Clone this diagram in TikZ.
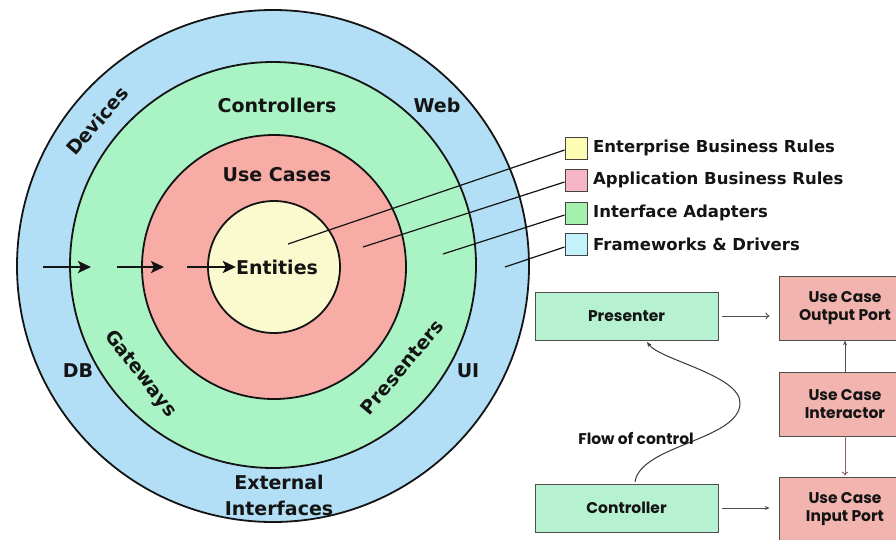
\documentclass[tikz,border=0pt]{standalone}
\usepackage{fontspec}
\setmainfont{DejaVu Sans}
\newfontfamily\popfont{Poppins}
\usetikzlibrary{arrows.meta,calc}

\definecolor{ringblue}{HTML}{B2DFF5}
\definecolor{ringgreen}{HTML}{AAF3C4}
\definecolor{ringred}{HTML}{F7ACA6}
\definecolor{ringyellow}{HTML}{FBF9CE}
\definecolor{swyellow}{HTML}{FCFCB4}
\definecolor{swpink}{HTML}{F6B6C8}
\definecolor{swgreen}{HTML}{A4F0AC}
\definecolor{swblue}{HTML}{C4F2FA}
\definecolor{boxgreen}{HTML}{B6F2D2}
\definecolor{boxred}{HTML}{F2B4AE}
\definecolor{ink}{HTML}{141414}
\definecolor{wire}{HTML}{505050}
\definecolor{mauve}{HTML}{8A6464}

\begin{document}
\begin{tikzpicture}[x=1pt,y=-1pt,
  ring/.style={circle,draw=ink,line width=1.8pt,inner sep=0pt},
  bigtext/.style={font=\fontsize{19}{26}\selectfont\bfseries,text=ink,align=center,inner sep=0pt},
  legtext/.style={font=\fontsize{16.5}{18}\selectfont\bfseries,text=ink,anchor=west,inner sep=0pt},
  swatch/.style={draw=ink!80,line width=0.9pt,minimum size=22pt,inner sep=0pt},
  leader/.style={draw=ink,line width=1.2pt},
  flowarrow/.style={draw=ink,line width=2.8pt,-{Stealth[length=13pt,width=12pt,inset=3pt]}},
  ucbox/.style={draw=ink!75,line width=0.8pt,inner sep=0pt,align=center,
    font=\popfont\fontsize{15.5}{18.5}\selectfont\bfseries,text=ink},
  greenbox/.style={ucbox,fill=boxgreen,minimum width=183pt,minimum height=48pt},
  redbox/.style={ucbox,fill=boxred,minimum width=132pt,minimum height=64pt},
  thinarrow/.style={draw=wire,line width=0.9pt},
]
\useasboundingbox (0,0) rectangle (896,539);
\clip (0,0) rectangle (896,539);

% concentric layers
\node[ring,fill=ringblue,minimum size=512pt]  (outer)  at (273,266) {};
\node[ring,fill=ringgreen,minimum size=406pt] (adapt)  at (273,265) {};
\node[ring,fill=ringred,minimum size=264pt]   (cases)  at (274,267) {};
\node[ring,fill=ringyellow,minimum size=132pt](core)   at (274,267) {};

% layer labels
\node[bigtext] (entities) at (277,267) {Entities};
\node[bigtext] (usecases) at (277,175) {Use Cases};
\node[bigtext] (controllers) at (277,105) {Controllers};
\node[bigtext] (web) at (437,105) {Web};
\node[bigtext,rotate=49] (devices) at (97,121) {Devices};
\node[bigtext] (db) at (78,371) {DB};
\node[bigtext] (ui) at (468,371) {UI};
\node[bigtext,rotate=-52] (gateways) at (140,374) {Gateways};
\node[bigtext,rotate=50] (presenters) at (402,367) {Presenters};
\node[bigtext] (external) at (279,495) {External\\Interfaces};

% dependency arrows pointing inwards
\coordinate (a1s) at (43,267);  \coordinate (a1e) at (91,267);
\coordinate (a2s) at (117,267); \coordinate (a2e) at (164,267);
\coordinate (a3s) at (187,267);
\draw[flowarrow] (a1s) -- (a1e);
\draw[flowarrow] (a2s) -- (a2e);
\draw[flowarrow] (a3s) -- (entities.west);

% legend
\node[swatch,fill=swyellow] (sw1) at (576,148) {};
\node[swatch,fill=swpink]   (sw2) at (576,180) {};
\node[swatch,fill=swgreen]  (sw3) at (576,213) {};
\node[swatch,fill=swblue]   (sw4) at (576,244) {};
\node[legtext] (l1) at (593,148) {Enterprise Business Rules};
\node[legtext] (l2) at (593,180) {Application Business Rules};
\node[legtext] (l3) at (593,213) {Interface Adapters};
\node[legtext] (l4) at (593,244) {Frameworks \& Drivers};

\coordinate (p1) at (288,244);
\coordinate (p2) at (363,247);
\coordinate (p3) at (443,254);
\coordinate (p4) at (505,267);
\draw[leader] (p1) -- ($(sw1.west)+(0,2)$);
\draw[leader] (p2) -- ($(sw2.west)+(0,2)$);
\draw[leader] (p3) -- ($(sw3.west)+(0,2)$);
\draw[leader] (p4) -- ($(sw4.west)+(0,3)$);

% use case flow
\node[greenbox] (presenter)  at (626.5,316) {Presenter};
\node[greenbox] (controller) at (626.5,508) {Controller};
\node[redbox] (outport)    at (845,308) {Use Case\\Output Port};
\node[redbox] (interactor) at (845,404) {Use Case\\Interactor};
\node[redbox] (inport)     at (845,509) {Use Case\\Input Port};

\draw[thinarrow,-{To[length=4pt,width=7pt]},shorten <=4pt,shorten >=9pt]
  (presenter.east) -- (presenter.east -| outport.west);
\draw[thinarrow,-{Stealth[length=5pt,width=4pt]},shorten <=4pt,shorten >=9pt]
  (controller.east) -- (controller.east -| inport.west);
\draw[thinarrow,-{Stealth[length=5pt,width=4pt]}]
  (interactor.north) -- (outport.south);
\draw[thinarrow,draw=mauve,-{To[length=4pt,width=7pt]},shorten >=1pt]
  (interactor.south) -- (inport.north);

\coordinate (fstart) at (635,482);
\coordinate (fturn) at (740,403);
\coordinate (fend) at (647,342);
\draw[draw=ink!85,line width=1pt,-{Stealth[length=5pt,width=4pt]}]
  (fstart) .. controls (640,445) and (740,440) .. (fturn)
           .. controls (740,375) and (660,360) .. (fend);
\node[font=\popfont\fontsize{15.5}{17}\selectfont\bfseries,text=ink,inner sep=0pt]
  (flowlabel) at (636,438) {Flow of control};
\end{tikzpicture}
\end{document}
